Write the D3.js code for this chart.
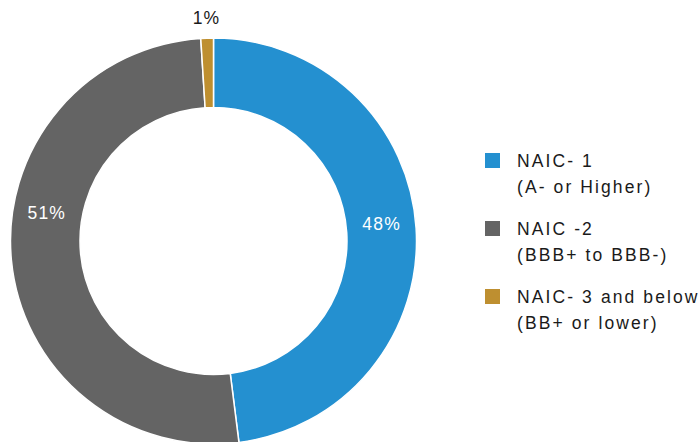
<!DOCTYPE html>
<html><head><meta charset="utf-8">
<script src="https://cdn.jsdelivr.net/npm/d3@7"></script>
<style>body{margin:0;background:#fff;overflow:hidden}svg{display:block}</style>
</head><body>
<svg id="c" width="700" height="442"></svg>
<script>
const categories = ["NAIC- 1", "NAIC -2", "NAIC- 3 and below"];
const subLabels = ["(A- or Higher)", "(BBB+ to BBB-)", "(BB+ or lower)"];
const values = [48, 51, 1];
const valueLabels = ["48%", "51%", "1%"];
const colors = ["#2490d0", "#646464", "#be8f30"];

const svg = d3.select("#c");
const cx = 213.5, cy = 241, R = 203, r = 133.5;
const font = "'Liberation Sans', Arial, sans-serif";

const data = categories.map((c, i) => ({cat: c, sub: subLabels[i], v: values[i], lab: valueLabels[i], col: colors[i]}));
const pie = d3.pie().value(d => d.v).sort(null);
const arcs = pie(data);
const arc = d3.arc().innerRadius(r).outerRadius(R);

const g = svg.append("g").attr("transform", `translate(${cx},${cy})`);
g.selectAll("path").data(arcs).join("path")
  .attr("d", arc).attr("fill", d => d.data.col)
  .attr("stroke", "#fff").attr("stroke-width", 1.5);

// labels
const labelR = 169;
const angleShift = [-0.04, 0.26, 0]; // nudges to mimic original placement
arcs.forEach((a, i) => {
  let x, y, fill;
  const mid = (a.startAngle + a.endAngle) / 2 + angleShift[i];
  if (a.data.v < 5) {
    x = Math.sin(mid) * (R + 20); y = -Math.cos(mid) * (R + 20);
    fill = "#1a1a1a";
  } else {
    x = Math.sin(mid) * labelR; y = -Math.cos(mid) * labelR;
    fill = "#fff";
  }
  g.append("text").attr("x", x).attr("y", y)
    .attr("text-anchor", "middle").attr("dominant-baseline", "central")
    .attr("font-family", font).attr("font-size", 17.5).attr("letter-spacing", 1.2).attr("fill", fill)
    .text(a.data.lab);
});

// legend
const lg = svg.append("g").attr("transform", "translate(485,153)");
const item = lg.selectAll("g").data(data).join("g")
  .attr("transform", (d, i) => `translate(0,${i * 68})`);
item.append("rect").attr("width", 15).attr("height", 15).attr("fill", d => d.col);
item.append("text").attr("x", 32).attr("y", 8).attr("dominant-baseline", "central")
  .attr("font-family", font).attr("font-size", 17.5).attr("letter-spacing", 2.1).attr("fill", "#1a1a1a").text(d => d.cat);
item.append("text").attr("x", 32).attr("y", 33.5).attr("dominant-baseline", "central")
  .attr("font-family", font).attr("font-size", 17.5).attr("letter-spacing", 2.1).attr("fill", "#1a1a1a").text(d => d.sub);
</script>
</body></html>
